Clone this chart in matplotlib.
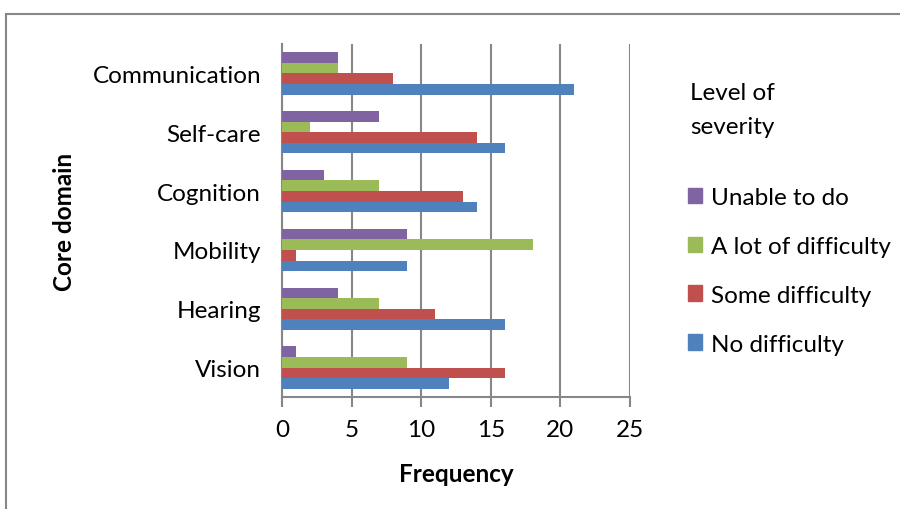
import numpy as np
import matplotlib
matplotlib.use('Agg')
import matplotlib.pyplot as plt
from matplotlib.patches import Rectangle, Patch

plt.rcParams['font.family'] = ['Lato', 'DejaVu Sans']

domains = ['Vision', 'Hearing', 'Mobility', 'Cognition', 'Self-care', 'Communication']
no_difficulty = [12, 16, 9, 14, 16, 21]
some_difficulty = [16, 11, 1, 13, 14, 8]
a_lot_difficulty = [9, 7, 18, 7, 2, 4]
unable_to_do = [1, 4, 9, 3, 7, 4]

series = [
    ('No difficulty', no_difficulty, '#4F81BD'),
    ('Some difficulty', some_difficulty, '#C0504D'),
    ('A lot of difficulty', a_lot_difficulty, '#9BBB59'),
    ('Unable to do', unable_to_do, '#8064A2'),
]

fs = 17.5
fig = plt.figure(figsize=(9, 5.1), dpi=100)
ax = fig.add_axes([282/900, 1 - 398/510, (630-282)/900, (398-45)/510])

y = np.arange(len(domains))
h = 0.18
for i, (name, vals, col) in enumerate(series):
    ax.barh(y + (i - 1.5) * h, vals, height=h, color=col, label=name, zorder=3)

ax.set_xlim(0, 25)
ax.set_ylim(-0.5, len(domains) - 0.5)
ax.set_xticks(range(0, 26, 5))
ax.set_yticks(y)
ax.set_yticklabels(domains)
ax.xaxis.grid(True, color='#878787', linewidth=1.5, zorder=0)
for side in ['top', 'right']:
    ax.spines[side].set_visible(False)
for side in ['left', 'bottom']:
    ax.spines[side].set_color('#878787')
    ax.spines[side].set_linewidth(1.5)
ax.tick_params(axis='x', direction='out', length=7, width=1.5, color='#878787',
               labelsize=fs, pad=9)
ax.tick_params(axis='y', length=0, labelsize=fs, pad=15)
ax.set_xlabel('Frequency', fontsize=17.5, fontweight='bold', labelpad=16)
ax.set_ylabel('Core domain', fontsize=17.5, fontweight='bold', labelpad=12)

# legend, top entry first
handles = [Patch(color=col, label=name) for name, vals, col in series[::-1]]
fig.legend(handles=handles, loc='upper left', bbox_to_anchor=(666/900, 1 - 166/510),
           frameon=False, fontsize=fs, handlelength=0.6, handleheight=0.6,
           handletextpad=0.35, labelspacing=1.15)
fig.text(690/900, 1 - 93/510, 'Level of', fontsize=fs, va='center')
fig.text(690/900, 1 - 127/510, 'severity', fontsize=fs, va='center')

# outer chart border
fig.patches.append(Rectangle((6/900, -0.1), 1.1, 1 - 15/510 + 0.1,
                             transform=fig.transFigure, fill=False,
                             edgecolor='#878787', linewidth=1.5))

fig.savefig('out.png', dpi=100)
